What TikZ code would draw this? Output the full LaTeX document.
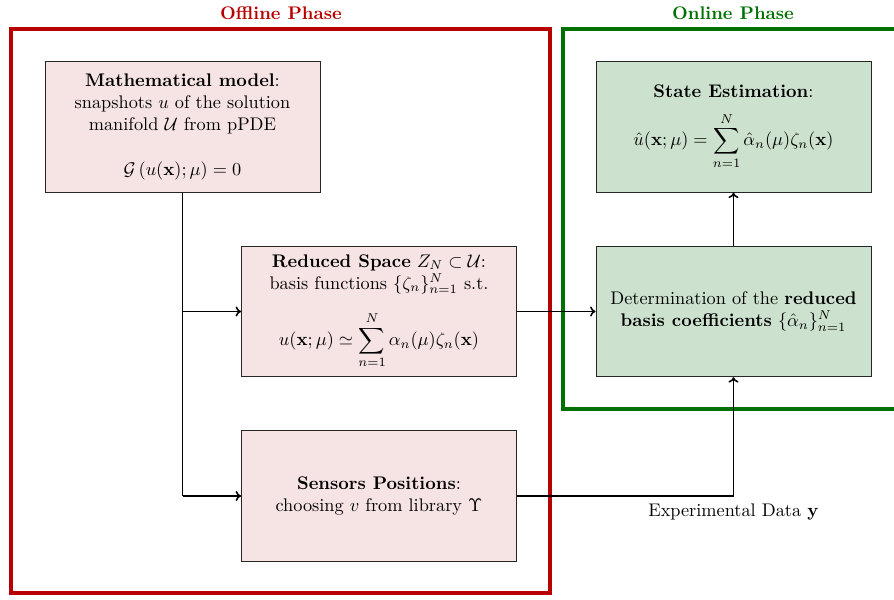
\documentclass[tikz,border=0pt]{standalone}
\usepackage{amsmath}
\usetikzlibrary{arrows.meta}
\definecolor{offred}{RGB}{184,0,0}
\definecolor{ongreen}{RGB}{0,112,0}
\definecolor{pinkfill}{RGB}{246,228,229}
\definecolor{greenfill}{RGB}{205,226,206}
\tikzset{
  box/.style={draw=black!85, line width=0.5pt, minimum width=150.4pt, minimum height=71.3pt, align=center, inner sep=2pt},
  offbox/.style={box, fill=pinkfill},
  onbox/.style={box, fill=greenfill},
  conn/.style={line width=0.85pt, draw=black},
  arr/.style={conn, -{To[length=3pt,width=5.5pt]}},
  frame/.style={line width=2.7pt},
}
\begin{document}
\begin{tikzpicture}[x=0.547pt,y=-0.547pt]
\useasboundingbox (0,0) rectangle (894,600);
% frames
\draw[frame, draw=offred] (11,29) rectangle (550,593);
\draw[frame, draw=ongreen] (563,29) rectangle (905,409);
\node[text=offred, font=\bfseries] (offlbl) at (281,13) {Offline Phase};
\node[text=ongreen, font=\bfseries] (onlbl) at (733,13) {Online Phase};
% boxes
\node[offbox] (math) at (182.5,127) {\textbf{Mathematical model}:\\ snapshots $u$ of the solution\\ manifold $\mathcal{U}$ from pPDE\\[13pt] $\mathcal{G}\left(u(\mathbf{x});\mu\right)=0$};
\node[offbox] (red) at (379,311.5) {\textbf{Reduced Space} $Z_N\subset\mathcal{U}$:\\ basis functions $\{\zeta_n\}_{n=1}^{N}$ s.t.\\[9pt] $\displaystyle u(\mathbf{x};\mu)\simeq\sum_{n=1}^{N}\alpha_n(\mu)\zeta_n(\mathbf{x})$};
\node[offbox] (sens) at (379,496) {\textbf{Sensors Positions}:\\ choosing $v$ from library $\Upsilon$};
\node[onbox] (state) at (733.5,127) {\textbf{State Estimation}:\\[7pt] $\displaystyle \hat{u}(\mathbf{x};\mu)=\sum_{n=1}^{N}\hat{\alpha}_n(\mu)\zeta_n(\mathbf{x})$};
\node[onbox] (det) at (733.5,311.5) {Determination of the \textbf{reduced}\\ \textbf{basis coefficients} $\{\hat{\alpha}_n\}_{n=1}^{N}$};
% connectors
\coordinate (j1) at (math.south |- red.west);
\coordinate (j2) at (math.south |- sens.west);
\coordinate (c1) at (det.south |- sens.east);
\draw[conn] (math.south) -- (j2);
\draw[arr] (j1) -- (red.west);
\draw[arr] (j2) -- (sens.west);
\draw[arr] (red.east) -- (det.west);
\draw[arr] (det.north) -- (state.south);
\draw[arr] (sens.east) -- (c1) -- (det.south);
\node[anchor=north] (exp) at ([yshift=-1pt]c1) {Experimental Data $\mathbf{y}$};
\end{tikzpicture}
\end{document}
